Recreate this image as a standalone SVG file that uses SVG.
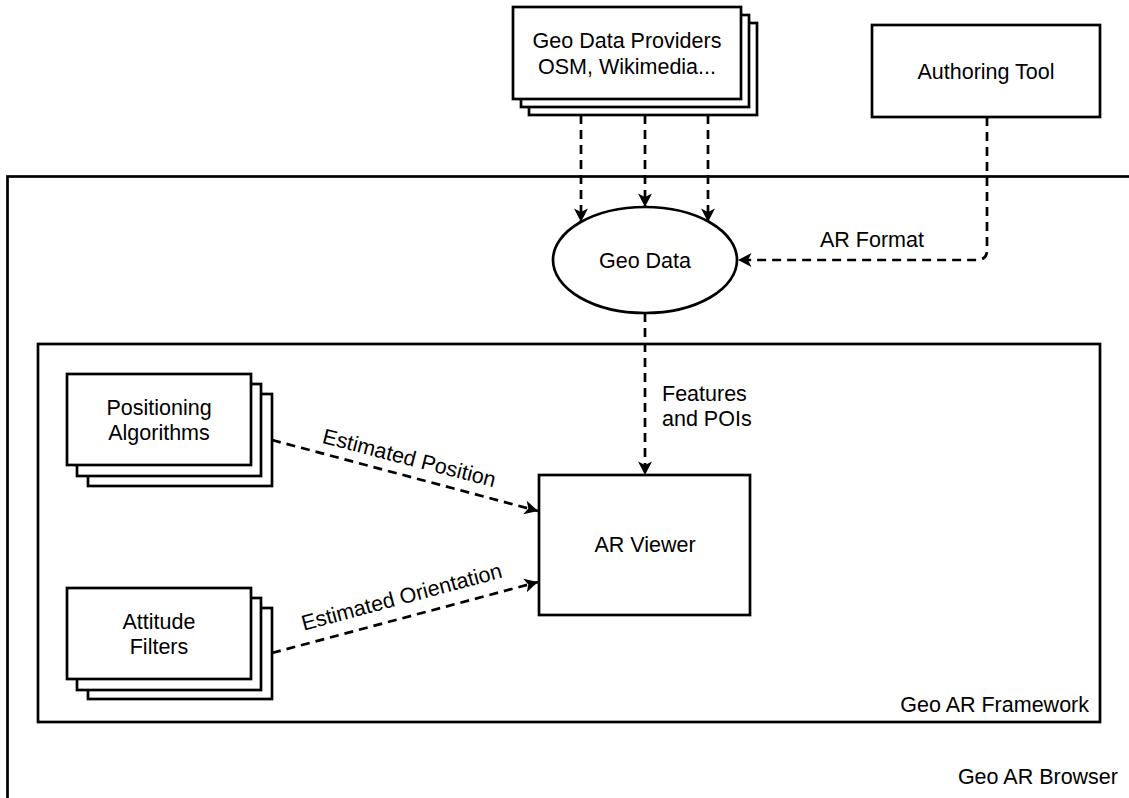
<svg xmlns="http://www.w3.org/2000/svg" width="1129" height="798" viewBox="0 0 1129 798">
<defs>
<marker id="arr" markerUnits="userSpaceOnUse" markerWidth="16" markerHeight="16" viewBox="-14 -8 16 16" refX="0" refY="0" orient="auto" overflow="visible">
<path d="M0,0 L-13.5,-7 L-10,0 L-13.5,7 Z" fill="#000"/>
</marker>
<style>
.box{fill:#fff;stroke:#000;stroke-width:2.7}
.frame{fill:none;stroke:#000;stroke-width:2.7}
.t{font-family:"Liberation Sans",Arial,Helvetica,sans-serif;font-size:21.5px;fill:#000}
.c{text-anchor:middle}
.e{text-anchor:end}
.dash{fill:none;stroke:#000;stroke-width:2.7;stroke-dasharray:9 6}
</style>
</defs>
<rect width="1129" height="798" fill="#fff"/>
<g id="geo-ar-browser">
<rect class="frame" x="7.5" y="176.5" width="1200" height="700"/>
<text class="t e" x="1118" y="784">Geo AR Browser</text>
</g>
<g id="geo-ar-framework">
<rect class="frame" x="38" y="344" width="1062" height="378"/>
<text class="t e" x="1089" y="712">Geo AR Framework</text>
</g>
<g id="geo-data-providers">
<rect class="box" x="529" y="23" width="228" height="92"/>
<rect class="box" x="521" y="15" width="228" height="92"/>
<rect class="box" x="513" y="7" width="228" height="92"/>
<text class="t c" x="627" y="48">Geo Data Providers</text>
<text class="t c" x="627" y="74">OSM, Wikimedia...</text>
</g>
<g id="authoring-tool">
<rect class="box" x="872" y="25" width="228" height="92"/>
<text class="t c" x="986" y="79">Authoring Tool</text>
</g>
<g id="geo-data">
<ellipse class="box" cx="645" cy="260" rx="92" ry="53"/>
<text class="t c" x="645" y="268">Geo Data</text>
</g>
<g id="positioning-algorithms">
<rect class="box" x="88" y="394" width="184" height="92"/>
<rect class="box" x="77" y="384" width="184" height="92"/>
<rect class="box" x="67" y="374" width="184" height="91"/>
<text class="t c" x="159" y="415">Positioning</text>
<text class="t c" x="159" y="440">Algorithms</text>
</g>
<g id="attitude-filters">
<rect class="box" x="88" y="608" width="184" height="91"/>
<rect class="box" x="77" y="598" width="184" height="92"/>
<rect class="box" x="67" y="588" width="184" height="91"/>
<text class="t c" x="159" y="629">Attitude</text>
<text class="t c" x="159" y="654">Filters</text>
</g>
<g id="ar-viewer">
<rect class="box" x="539" y="475" width="211" height="140"/>
<text class="t c" x="645" y="552">AR Viewer</text>
</g>
<g id="connectors">
<path class="dash" d="M581,115 L581,222" marker-end="url(#arr)"/>
<path class="dash" d="M645,115 L645,207" marker-end="url(#arr)"/>
<path class="dash" d="M708,115 L708,222" marker-end="url(#arr)"/>
<path class="dash" d="M987,117 L987,250 Q987,260 977,260 L738,260" marker-end="url(#arr)"/>
<text class="t c" x="872" y="247">AR Format</text>
<path class="dash" d="M645,313 L645,475" marker-end="url(#arr)"/>
<text class="t" x="662" y="401">Features</text>
<text class="t" x="662" y="426">and POIs</text>
<path class="dash" d="M272,440 L538,511" marker-end="url(#arr)"/>
<text class="t c" transform="translate(407.5,465) rotate(14.5)">Estimated Position</text>
<path class="dash" d="M272,653 L538,582" marker-end="url(#arr)"/>
<text class="t c" transform="translate(403.5,604) rotate(-15)">Estimated Orientation</text>
</g>
</svg>
